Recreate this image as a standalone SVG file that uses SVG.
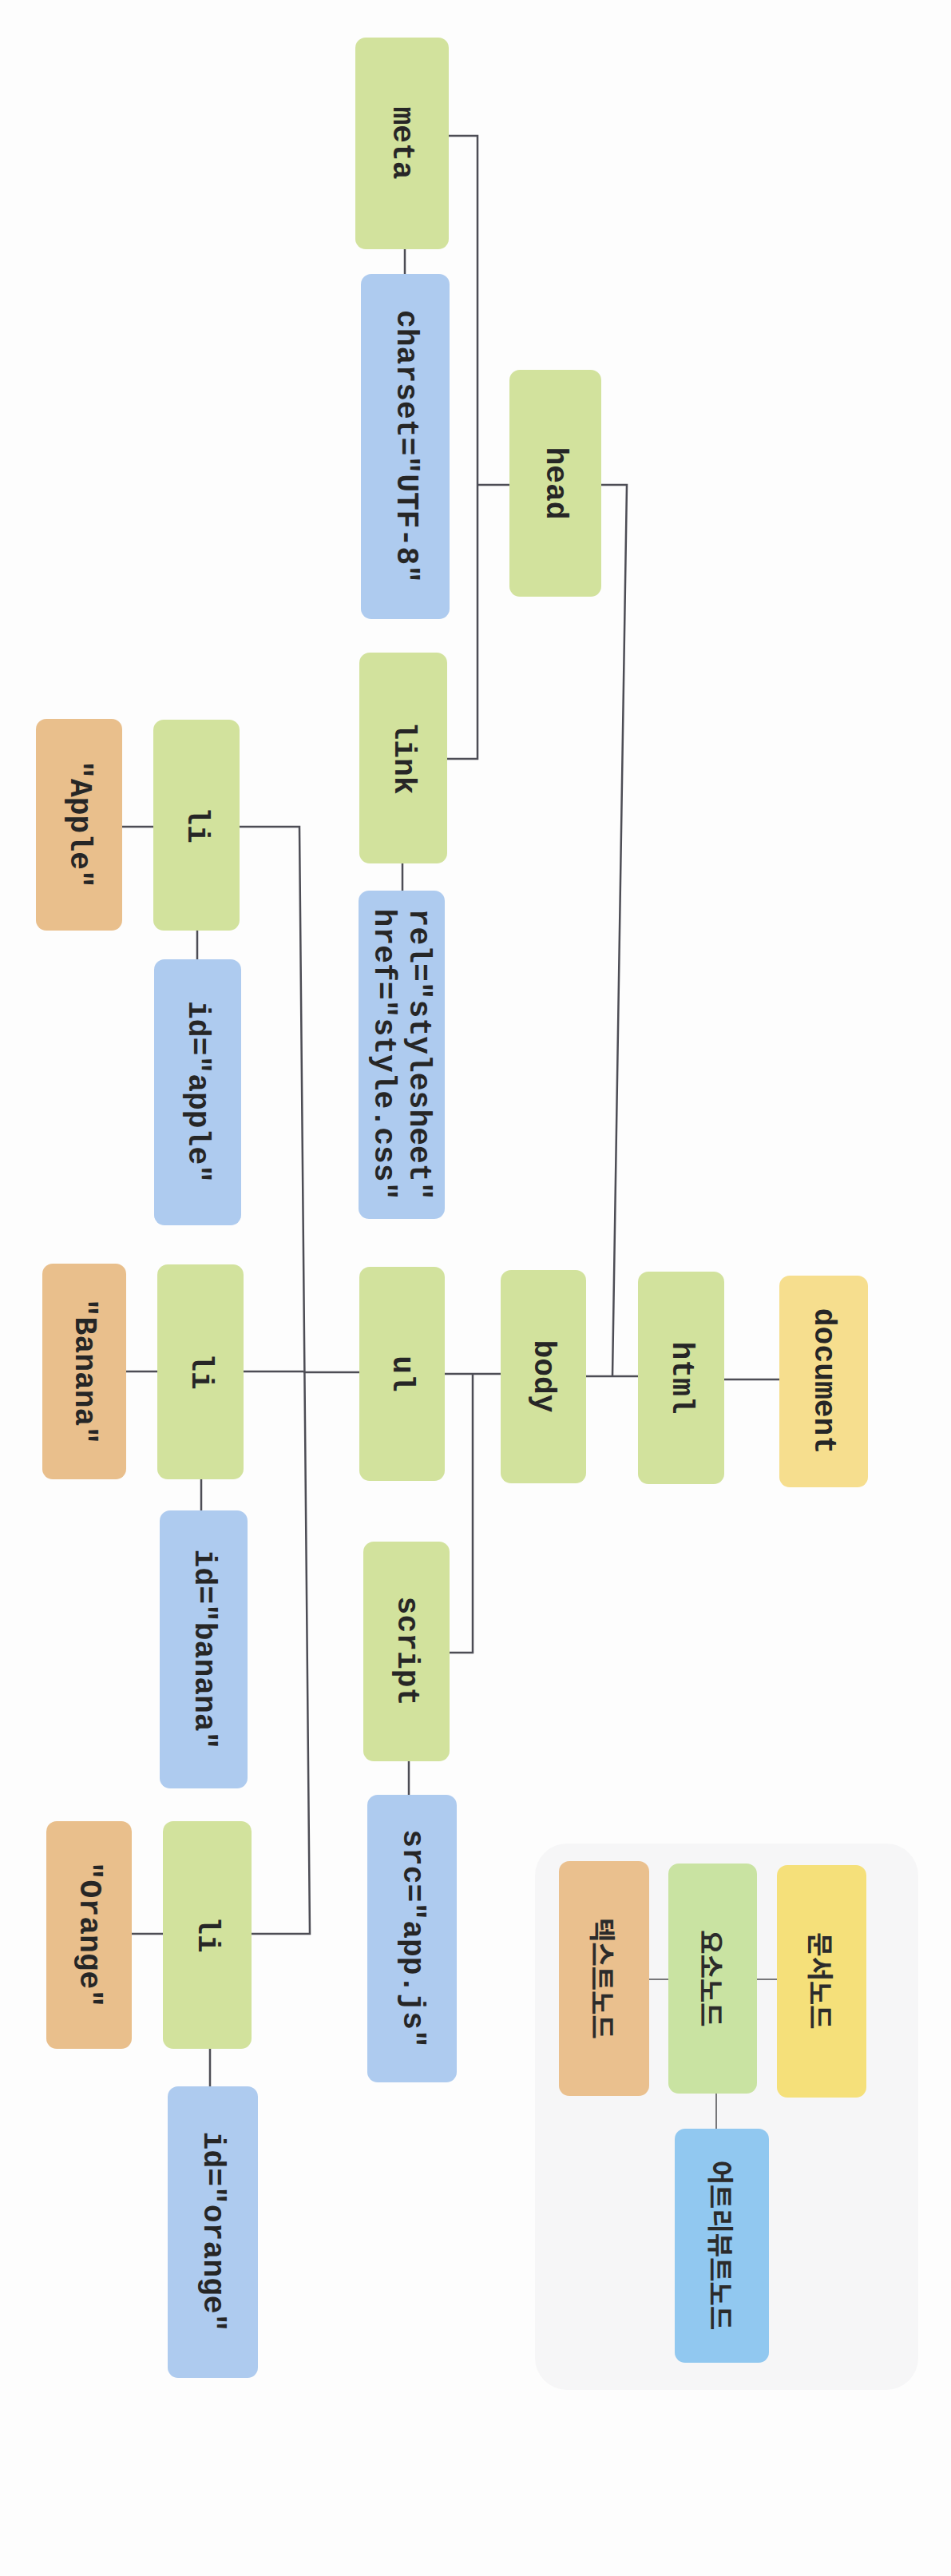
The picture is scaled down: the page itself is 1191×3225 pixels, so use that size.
<svg xmlns="http://www.w3.org/2000/svg" width="1191" height="3225" viewBox="0 0 1191 3225">
<style>
.n{rx:13px;ry:13px}
.g{fill:#d2e29d}
.b{fill:#aecbef}
.o{fill:#e9bf8c}
.y{fill:#f6de8e}
.t{font-family:"Liberation Mono","DejaVu Sans Mono",monospace;font-weight:bold;font-size:38px;fill:#262626;text-anchor:middle;dominant-baseline:central}
.k{font-family:"Noto Sans CJK KR",sans-serif;font-weight:bold;font-size:33px;fill:#2b2b2b;text-anchor:middle;dominant-baseline:central}
.c{fill:none;stroke:#4d4d55;stroke-width:2.5}
.lc{fill:none;stroke:#77777a;stroke-width:2}
</style>
<rect width="1191" height="3225" fill="#fdfdfd"/>
<g id="connectors">
<path class="c" d="M507,312V343"/>
<path class="c" d="M562,170H598V950H560M598,607H638"/>
<path class="c" d="M504,1081V1115"/>
<path class="c" d="M753,607H785L767,1723"/>
<path class="c" d="M734,1723H799"/>
<path class="c" d="M907,1727H976"/>
<path class="c" d="M557,1720H627M592,1720V2069H563"/>
<path class="c" d="M512,2205V2247"/>
<path class="c" d="M450,1718H380"/>
<path class="c" d="M300,1035H375L388,2421H315M305,1717H380"/>
<path class="c" d="M153,1035H192M158,1717H197M165,2421H204"/>
<path class="c" d="M247,1165V1201M252,1852V1891M263,2564V2612"/>
</g>
<g id="legend">
<rect x="670" y="2308" width="480" height="684" rx="40" fill="#f6f6f7"/>
<path class="lc" d="M813,2478H837M948,2478H973M897,2621V2665"/>
<g id="legend-text"><rect class="n" x="700" y="2330" width="113" height="294" fill="#eac08e"/><text class="k" transform="translate(756,2477) rotate(90)">텍스트노드</text></g>
<g id="legend-element"><rect class="n" x="837" y="2333" width="111" height="288" fill="#c9e3a2"/><text class="k" transform="translate(892,2477) rotate(90)">요소노드</text></g>
<g id="legend-document"><rect class="n" x="973" y="2335" width="112" height="291" fill="#f5e07a"/><text class="k" transform="translate(1029,2480) rotate(90)">문서노드</text></g>
<g id="legend-attribute"><rect class="n" x="845" y="2665" width="118" height="293" fill="#91c8f0"/><text class="k" transform="translate(904,2811) rotate(90)">어트리뷰트노드</text></g>
</g>
<g id="meta"><rect class="n g" x="445" y="47" width="117" height="265"/><text class="t" transform="translate(503,179) rotate(90)">meta</text></g>
<g id="charset"><rect class="n b" x="452" y="343" width="111" height="432"/><text class="t" transform="translate(508,559) rotate(90)">charset="UTF-8"</text></g>
<g id="head"><rect class="n g" x="638" y="463" width="115" height="284"/><text class="t" transform="translate(695,605) rotate(90)">head</text></g>
<g id="link"><rect class="n g" x="450" y="817" width="110" height="264"/><text class="t" transform="translate(505,949) rotate(90)">link</text></g>
<g id="rel"><rect class="n b" x="449" y="1115" width="108" height="411"/><text class="t" transform="translate(503,1320) rotate(90)"><tspan x="0" y="-22">rel="stylesheet"</tspan><tspan x="0" y="22">href="style.css"</tspan></text></g>
<g id="html"><rect class="n g" x="799" y="1592" width="108" height="266"/><text class="t" transform="translate(853,1725) rotate(90)">html</text></g>
<g id="document"><rect class="n y" x="976" y="1597" width="111" height="265"/><text class="t" transform="translate(1031,1729) rotate(90)">document</text></g>
<g id="body"><rect class="n g" x="627" y="1590" width="107" height="267"/><text class="t" transform="translate(680,1723) rotate(90)">body</text></g>
<g id="ul"><rect class="n g" x="450" y="1586" width="107" height="268"/><text class="t" transform="translate(503,1720) rotate(90)">ul</text></g>
<g id="script"><rect class="n g" x="455" y="1930" width="108" height="275"/><text class="t" transform="translate(509,2067) rotate(90)">script</text></g>
<g id="src"><rect class="n b" x="460" y="2247" width="112" height="360"/><text class="t" transform="translate(516,2427) rotate(90)">src="app.js"</text></g>
<g id="li-apple"><rect class="n g" x="192" y="901" width="108" height="264"/><text class="t" transform="translate(246,1033) rotate(90)">li</text></g>
<g id="text-apple"><rect class="n o" x="45" y="900" width="108" height="265"/><text class="t" transform="translate(99,1032) rotate(90)">"Apple"</text></g>
<g id="id-apple"><rect class="n b" x="193" y="1201" width="109" height="333"/><text class="t" transform="translate(247,1367) rotate(90)">id="apple"</text></g>
<g id="li-banana"><rect class="n g" x="197" y="1583" width="108" height="269"/><text class="t" transform="translate(251,1717) rotate(90)">li</text></g>
<g id="text-banana"><rect class="n o" x="53" y="1582" width="105" height="270"/><text class="t" transform="translate(105,1717) rotate(90)">"Banana"</text></g>
<g id="id-banana"><rect class="n b" x="200" y="1891" width="110" height="348"/><text class="t" transform="translate(255,2065) rotate(90)">id="banana"</text></g>
<g id="li-orange"><rect class="n g" x="204" y="2280" width="111" height="285"/><text class="t" transform="translate(259,2422) rotate(90)">li</text></g>
<g id="text-orange"><rect class="n o" x="58" y="2280" width="107" height="285"/><text class="t" transform="translate(111,2422) rotate(90)">"Orange"</text></g>
<g id="id-orange"><rect class="n b" x="210" y="2612" width="113" height="365"/><text class="t" transform="translate(266,2794) rotate(90)">id="orange"</text></g>
</svg>
